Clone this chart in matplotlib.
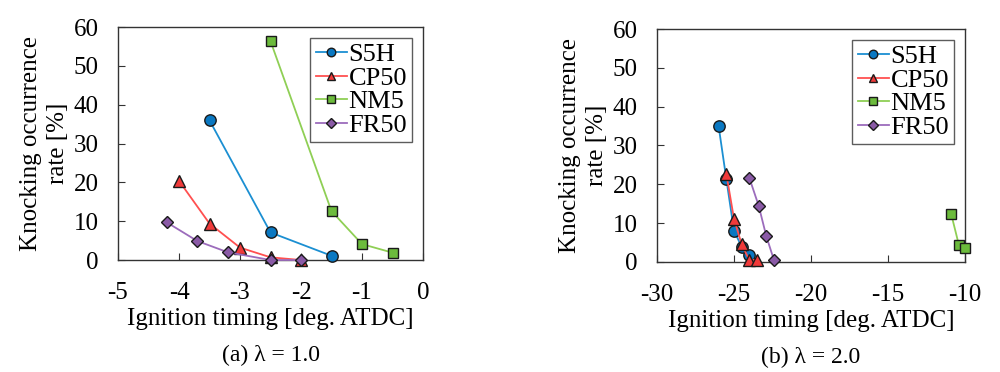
import numpy as np
import matplotlib
matplotlib.use("Agg")
from matplotlib import pyplot as plt

# (a) lambda = 1.0
s5h_x_a = [-3.5, -2.5, -1.5]
s5h_y_a = [36.0, 7.1, 1.1]
cp50_x_a = [-4.0, -3.5, -3.0, -2.5, -2.0]
cp50_y_a = [20.4, 9.4, 3.2, 0.7, 0.0]
nm5_x_a = [-2.5, -1.5, -1.0, -0.5]
nm5_y_a = [56.4, 12.6, 4.1, 1.9]
fr50_x_a = [-4.2, -3.7, -3.2, -2.5, -2.0]
fr50_y_a = [9.7, 4.9, 2.0, 0.0, 0.0]

# (b) lambda = 2.0
s5h_x_b = [-26.0, -25.5, -25.0, -24.5, -24.0]
s5h_y_b = [35.0, 21.4, 8.0, 3.9, 1.7]
cp50_x_b = [-25.5, -25.0, -24.5, -24.0, -23.5]
cp50_y_b = [22.7, 11.1, 4.5, 0.4, 0.6]
nm5_x_b = [-10.9, -10.4, -10.0]
nm5_y_b = [12.4, 4.4, 3.6]
fr50_x_b = [-24.0, -23.4, -22.9, -22.4]
fr50_y_b = [21.6, 14.5, 6.6, 0.4]

series_names = ["S5H", "CP50", "NM5", "FR50"]
line_cols = ["#1b8fd2", "#ff5050", "#8fcf55", "#9c6cbc"]
face_cols = ["#0a78c2", "#f03a3a", "#6cbb3c", "#8a5aa6"]
markers = ["o", "^", "s", "D"]
msizes = [8.2, 8.5, 7.6, 6.3]

plt.rcParams["font.family"] = ["Liberation Serif", "DejaVu Serif"]
plt.rcParams["axes.unicode_minus"] = False

fig = plt.figure(figsize=(10, 3.72), dpi=100)
ax_a = fig.add_axes([0.118, 0.301, 0.305, 0.626])
ax_b = fig.add_axes([0.657, 0.296, 0.308, 0.626])


def zeichne(ax, daten, xlim, xticks, caption):
    for (xs, ys), name, lc, fc, mk, ms in zip(daten, series_names, line_cols,
                                              face_cols, markers, msizes):
        ax.plot(xs, ys, color=lc, lw=1.3, marker=mk, ms=ms, mfc=fc,
                mec="#1a1a1a", mew=1.0, label=name, clip_on=False, zorder=3)
    ax.set_xlim(*xlim)
    ax.set_ylim(0, 60)
    ax.set_xticks(xticks)
    ax.set_yticks(np.arange(0, 61, 10))
    ax.tick_params(direction="in", length=5, labelsize=18,
                   top=False, right=False, color="#333333")
    ax.tick_params(axis="x", pad=16)
    ax.tick_params(axis="y", pad=14)
    for sp in ax.spines.values():
        sp.set_color("#333333")
        sp.set_linewidth(1.0)
    ax.set_xlabel("Ignition timing [deg. ATDC]", fontsize=18, labelpad=3)
    ax.set_ylabel("Knocking occurrence\nrate [%]", fontsize=18, labelpad=3,
                  linespacing=1.3)
    leg = ax.legend(loc="upper right", fontsize=19, frameon=True, fancybox=False,
                    edgecolor="#333333", handlelength=1.2, handletextpad=0.05,
                    borderpad=0.2, labelspacing=0.0, borderaxespad=0.4,
                    markerscale=0.75)
    leg.get_frame().set_linewidth(1.0)
    ax.text(0.5, -0.41, caption, transform=ax.transAxes, ha="center",
            va="center", fontsize=17)


zeichne(ax_a, [(s5h_x_a, s5h_y_a), (cp50_x_a, cp50_y_a), (nm5_x_a, nm5_y_a),
               (fr50_x_a, fr50_y_a)],
        (-5, 0), [-5, -4, -3, -2, -1, 0], "(a) λ = 1.0")
zeichne(ax_b, [(s5h_x_b, s5h_y_b), (cp50_x_b, cp50_y_b), (nm5_x_b, nm5_y_b),
               (fr50_x_b, fr50_y_b)],
        (-30, -10), [-30, -25, -20, -15, -10], "(b) λ = 2.0")

fig.savefig("out.png", dpi=100)
